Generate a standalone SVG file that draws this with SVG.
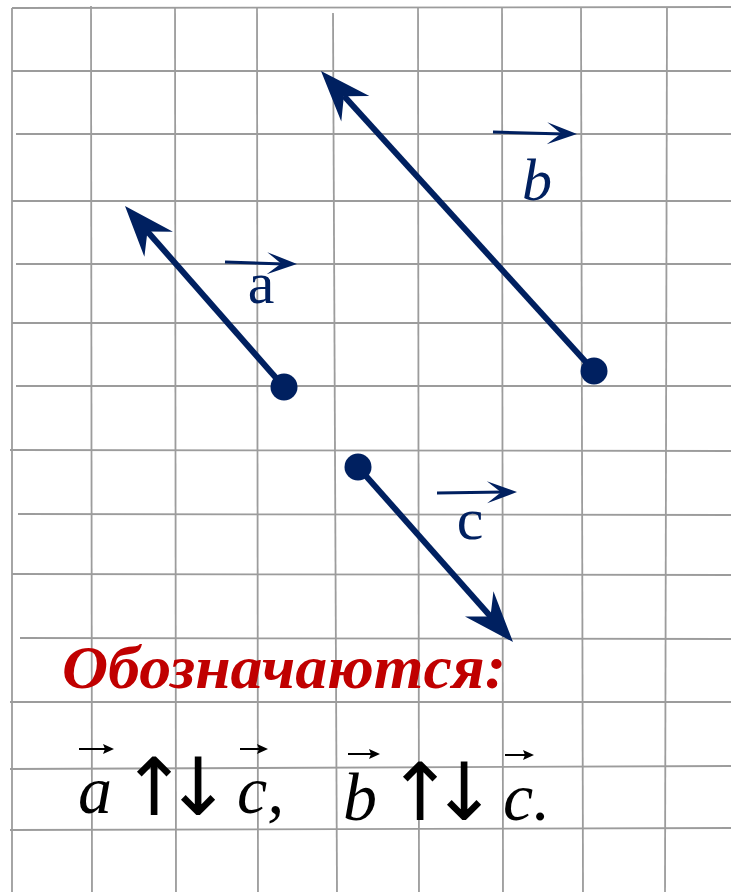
<svg xmlns="http://www.w3.org/2000/svg" xmlns:xlink="http://www.w3.org/1999/xlink" width="731" height="892" viewBox="0 0 731 892">
  <style>
    .grid line { stroke: #9c9c9c; stroke-width: 1.8; }
    .shaft { stroke: #002060; stroke-width: 6; fill: none; }
    .dot { fill: #002060; }
    .head { fill: #002060; }
    .lbl { font-family: "Liberation Serif", "Times New Roman", serif; fill: #002060; font-size: 60px; }
    .small { stroke: #002060; stroke-width: 3; }
    .title { font-family: "Liberation Serif", "Times New Roman", serif; font-weight: bold; font-style: italic; fill: #c00000; font-size: 62px; }
    .f { font-family: "Liberation Serif", "Times New Roman", serif; font-style: italic; fill: #000; font-size: 68px; }
    .fa { font-family: "DejaVu Sans", sans-serif; fill: #000; font-size: 80px; }
    .acc { stroke: #000; stroke-width: 2; }
  </style>
  <defs>
    <path id="bighead" d="M0,0 L-51,-19 L-34,0 L-51,19 Z"/>
    <path id="smallhead" d="M0,0 L-30,-11 L-16,0 L-30,11 Z"/>
    <path id="acchead" d="M0,0 L-11,-5 L-9,0 L-11,5 Z"/>
  </defs>
  <rect width="731" height="892" fill="#fff"/>
  <g class="grid" id="grid">
    <line x1="12" y1="8" x2="731" y2="7"/>
    <line x1="12" y1="71" x2="731" y2="71"/>
    <line x1="16" y1="134" x2="731" y2="134"/>
    <line x1="12" y1="201" x2="731" y2="201"/>
    <line x1="16" y1="264" x2="731" y2="264"/>
    <line x1="12" y1="323" x2="731" y2="323"/>
    <line x1="16" y1="386" x2="731" y2="386"/>
    <line x1="10" y1="450" x2="731" y2="451"/>
    <line x1="18" y1="514" x2="731" y2="515"/>
    <line x1="12" y1="574" x2="731" y2="575"/>
    <line x1="20" y1="638" x2="731" y2="639"/>
    <line x1="10" y1="702" x2="731" y2="702"/>
    <line x1="10" y1="769" x2="731" y2="766"/>
    <line x1="10" y1="830" x2="731" y2="828"/>
    <line x1="12" y1="8" x2="12" y2="892"/>
    <line x1="91" y1="6" x2="92" y2="892"/>
    <line x1="175" y1="7" x2="176" y2="892"/>
    <line x1="257" y1="7" x2="258" y2="892"/>
    <line x1="333" y1="13" x2="337" y2="892"/>
    <line x1="418" y1="7" x2="419" y2="892"/>
    <line x1="502" y1="7" x2="503" y2="892"/>
    <line x1="581" y1="7" x2="583" y2="892"/>
    <line x1="667" y1="7" x2="665" y2="892"/>
  </g>
  <g id="connectors">
    <g id="vec-a">
      <line class="shaft" x1="284" y1="387" x2="147" y2="231"/>
      <use href="#bighead" class="head" transform="translate(125 206) rotate(-131.3)"/>
      <circle class="dot" cx="284" cy="387" r="13.5"/>
    </g>
    <g id="vec-b">
      <line class="shaft" x1="594" y1="371" x2="344" y2="96"/>
      <use href="#bighead" class="head" transform="translate(321 71) rotate(-132.3)"/>
      <circle class="dot" cx="594" cy="371" r="13.5"/>
    </g>
    <g id="vec-c">
      <line class="shaft" x1="358" y1="467" x2="491" y2="617"/>
      <use href="#bighead" class="head" transform="translate(513 642) rotate(48.5)"/>
      <circle class="dot" cx="358" cy="467" r="13.5"/>
    </g>
  </g>
  <g id="label-a">
    <line class="small" x1="225" y1="262" x2="284" y2="264"/>
    <use href="#smallhead" class="head" transform="translate(297 264) rotate(1.6)"/>
    <text class="lbl" x="261" y="303" text-anchor="middle">a</text>
  </g>
  <g id="label-b">
    <line class="small" x1="493" y1="132" x2="564" y2="134"/>
    <use href="#smallhead" class="head" transform="translate(577 134) rotate(1.4)"/>
    <text class="lbl" x="537" y="200" text-anchor="middle" font-style="italic">b</text>
  </g>
  <g id="label-c">
    <line class="small" x1="437" y1="493" x2="504" y2="492"/>
    <use href="#smallhead" class="head" transform="translate(517 492) rotate(-0.7)"/>
    <text class="lbl" x="470" y="539" text-anchor="middle">c</text>
  </g>
  <g id="title">
    <text class="title" x="62" y="688" textLength="444" lengthAdjust="spacingAndGlyphs">Обозначаются:</text>
  </g>
  <g id="formula">
    <text class="f" x="78" y="813">a</text>
    <line class="acc" x1="79" y1="749" x2="106" y2="749"/>
    <use href="#acchead" transform="translate(114 749)"/>
    <text class="fa" x="154 198" y="815" text-anchor="middle">↑↓</text>
    <text class="f" x="237" y="813">c,</text>
    <line class="acc" x1="240" y1="749" x2="259" y2="749"/>
    <use href="#acchead" transform="translate(268 749)"/>
    <text class="f" x="343" y="820">b</text>
    <line class="acc" x1="348" y1="754" x2="371" y2="754"/>
    <use href="#acchead" transform="translate(380 754)"/>
    <text class="fa" x="420 464" y="820" text-anchor="middle">↑↓</text>
    <text class="f" x="503" y="820">c.</text>
    <line class="acc" x1="505" y1="755" x2="525" y2="755"/>
    <use href="#acchead" transform="translate(534 755)"/>
  </g>
</svg>
